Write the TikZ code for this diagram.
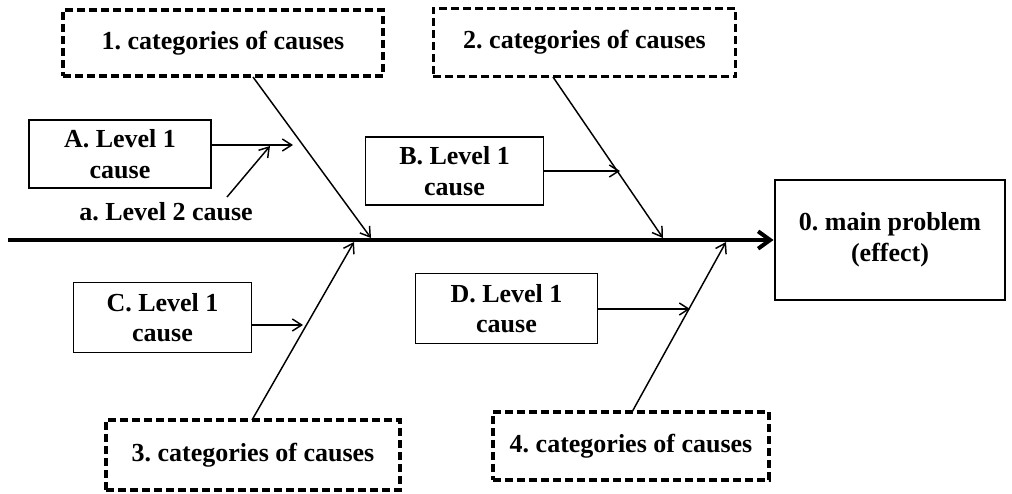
\documentclass[tikz,border=0pt]{standalone}
\usepackage{fontspec}
\setmainfont{Liberation Serif}
\usetikzlibrary{arrows.meta}
\frenchspacing

\tikzset{every picture/.style={line width=0.75pt}}
\tikzset{
  catbox/.style={draw, line width=2.3pt, dash pattern=on 6pt off 3pt, inner sep=0pt, font=\fontsize{19.5}{23}\selectfont\bfseries},
  lvlbox/.style={draw, line width=0.8pt, inner sep=0pt, align=center, font=\fontsize{19.5}{23}\selectfont\bfseries},
  effectbox/.style={draw, line width=2.2pt, inner sep=0pt, align=center, font=\fontsize{19.5}{23}\selectfont\bfseries},
  bone/.style={line width=1.1pt, -{Straight Barb[length=7pt,width=9pt,line width=1.1pt]}},
  twig/.style={line width=1.1pt, -{Straight Barb[length=7pt,width=9pt,line width=1.1pt]}},
}

\begin{document}
\begin{tikzpicture}[x=0.75pt,y=0.75pt,yscale=-1,xscale=1]
\path[use as bounding box] (0,0) rectangle (1012,493);

% category boxes
\node (cat1) [catbox, minimum width=240pt, minimum height=49.5pt] at (223,43) {1. categories of causes};
\node (cat2) [catbox, minimum width=227pt, minimum height=51.5pt] at (584.5,42.5) {2. categories of causes};
\node (cat3) [catbox, minimum width=220.5pt, minimum height=52.5pt] at (253,455) {3. categories of causes};
\node (cat4) [catbox, minimum width=207pt, minimum height=51pt] at (631,446) {4. categories of causes};

% level 1 boxes
\node (causeA) [lvlbox, minimum width=136.5pt, minimum height=51pt] at (120,154) {A. Level 1\\cause};
\node (causeB) [lvlbox, minimum width=134pt, minimum height=51pt] at (454.5,171) {B. Level 1\\cause};
\node (causeC) [lvlbox, minimum width=134pt, minimum height=52pt] at (162.5,317.5) {C. Level 1\\cause};
\node (causeD) [lvlbox, minimum width=136pt, minimum height=52pt] at (506.5,308.5) {D. Level 1\\cause};

% level 2 cause
\node (lvl2) [font=\fontsize{19.5}{23}\selectfont\bfseries, inner sep=0pt] at (166,212) {a. Level 2 cause};

% effect
\node (effect) [effectbox, minimum width=172.5pt, minimum height=90pt] at (890,240) {0. main problem\\(effect)};

% spine
\coordinate (tail) at (8,240);
\draw [line width=3pt, -{Straight Barb[length=9pt,width=13pt,line width=3pt]}] (tail) -- (effect.west);

% bones
\coordinate (top1) at (253,77);
\coordinate (head1) at (371,238);
\coordinate (top2) at (553,77);
\coordinate (head2) at (663,238);
\coordinate (foot3) at (252,420);
\coordinate (head3) at (354,242);
\coordinate (foot4) at (632,412);
\coordinate (head4) at (726,242);
\draw [bone] (top1) -- (head1);
\draw [bone] (top2) -- (head2);
\draw [bone] (foot3) -- (head3);
\draw [bone] (foot4) -- (head4);

% twigs
\coordinate (tipA) at (293,145);
\coordinate (tipB) at (620,171);
\coordinate (tipC) at (303,325);
\coordinate (tipD) at (690,309);
\draw [twig] (causeA.east |- tipA) -- (tipA);
\draw [twig] (causeB.east |- tipB) -- (tipB);
\draw [twig] (causeC.east |- tipC) -- (tipC);
\draw [twig] (causeD.east |- tipD) -- (tipD);

% level 2 twig
\coordinate (startL2) at (227,197);
\coordinate (tipL2) at (270,146);
\draw [twig] (startL2) -- (tipL2);

\end{tikzpicture}
\end{document}
